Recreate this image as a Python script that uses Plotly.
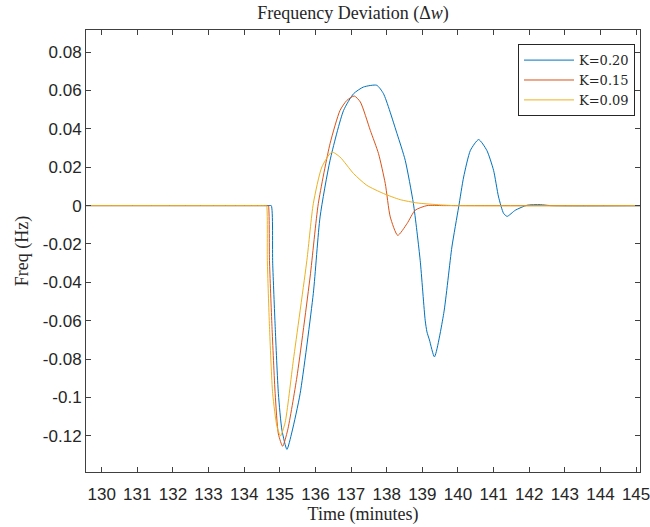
import plotly.graph_objects as go

# K = 0.20 (blue)
t_k20 = [129.0, 134.70, 134.76, 134.80, 134.87, 134.96, 135.06, 135.20, 135.34, 135.57, 135.94, 136.13,
         136.41, 136.79, 137.07, 137.35, 137.72, 137.91, 138.29, 138.52, 138.75, 138.94, 139.08,
         139.13, 139.20, 139.34, 139.60, 139.83, 140.02, 140.16, 140.35, 140.58, 140.81, 141.00,
         141.14, 141.28, 141.38, 141.61, 141.94, 142.31, 142.60, 146.0]
f_k20 = [0.0, 0.0, 0.0, -0.030, -0.063, -0.098, -0.117, -0.1270, -0.118, -0.098, -0.0458, -0.0059,
         0.0236, 0.0496, 0.0583, 0.0618, 0.0627, 0.0583, 0.0375, 0.0236, 0.0010, -0.0285, -0.0597,
         -0.0658, -0.0700, -0.0788, -0.0563, -0.0216, -0.0007, 0.0149, 0.0288, 0.0344, 0.0288, 0.0184,
         0.0045, -0.0040, -0.0056, -0.0024, 0.0002, 0.0005, 0.0, 0.0]

# K = 0.15 (orange)
t_k15 = [129.0, 134.66, 134.68, 134.71, 134.78, 134.87, 134.96, 135.08, 135.22, 135.48, 135.85, 136.08,
         136.41, 136.69, 136.88, 137.09, 137.26, 137.54, 137.77, 137.96, 138.10, 138.31, 138.57,
         138.80, 139.13, 139.60, 146.0]
f_k15 = [0.0, 0.0, 0.0, -0.0285, -0.063, -0.098, -0.119, -0.1254, -0.117, -0.0893, -0.0372, 0.0010,
         0.0323, 0.0496, 0.0548, 0.0571, 0.0540, 0.0392, 0.0271, 0.0115, -0.0059, -0.0155, -0.0094,
         -0.0024, 0.0000, 0.0, 0.0]

# K = 0.09 (yellow)
t_k09 = [129.0, 134.61, 134.63, 134.65, 134.71, 134.80, 134.92, 135.02, 135.15, 135.38, 135.76, 135.94,
         136.18, 136.46, 136.69, 137.07, 137.44, 137.91, 138.38, 138.85, 139.41, 139.90, 146.0]
f_k09 = [0.0, 0.0, 0.0, -0.0285, -0.063, -0.098, -0.115, -0.1200, -0.113, -0.0806, -0.0285, 0.0010,
         0.0201, 0.0279, 0.0253, 0.0167, 0.0106, 0.0063, 0.0031, 0.0014, 0.0005, 0.0, 0.0]

x_ticks = list(range(130, 146))
y_tickvals = [0.08, 0.06, 0.04, 0.02, 0, -0.02, -0.04, -0.06, -0.08, -0.1, -0.12]
y_ticktext = ["0.08", "0.06", "0.04", "0.02", "0", "-0.02", "-0.04", "-0.06", "-0.08", "-0.1", "-0.12"]

series = [
    ("K=0.20", t_k20, f_k20, "#0072BD"),
    ("K=0.15", t_k15, f_k15, "#D95319"),
    ("K=0.09", t_k09, f_k09, "#EDB120"),
]

fig = go.Figure()
for name, t, f, c in series:
    fig.add_trace(go.Scatter(x=t, y=f, mode="lines", name=name,
                             line=dict(color=c, width=1, shape="spline", smoothing=0.6)))

axis_col = "#404040"
txt_col = "#262626"
serif = "Liberation Serif"
sans = "Liberation Sans"

fig.update_layout(
    width=650, height=527,
    margin=dict(l=86, r=10, t=30, b=55),
    paper_bgcolor="white", plot_bgcolor="white",
    title=dict(text="Frequency Deviation (Δ<i>w</i>)", x=353/650, xanchor="center",
               y=1 - 13/527, yanchor="middle",
               font=dict(family=serif, size=18, color=txt_col)),
    legend=dict(x=0.991, xanchor="right", y=0.968, yanchor="top",
                bgcolor="white", bordercolor=txt_col, borderwidth=1,
                font=dict(family="DejaVu Serif", size=13, color=txt_col),
                itemwidth=50, tracegroupgap=0),
    showlegend=True,
)
fig.update_xaxes(range=[129.56, 145.11], tickvals=x_ticks, ticktext=[str(v) for v in x_ticks],
                 ticks="inside", ticklen=5, tickcolor=axis_col, showline=True, linecolor=axis_col,
                 linewidth=1, mirror="ticks", showgrid=False, zeroline=False, automargin=False,
                 ticklabelstandoff=7, ticklabeloverflow="allow",
                 tickfont=dict(family=sans, size=17, color=txt_col),
                 title=dict(text="Time (minutes)", font=dict(family=serif, size=18, color=txt_col),
                            standoff=2))
fig.update_yaxes(range=[-0.1388, 0.0915], tickvals=y_tickvals, ticktext=y_ticktext,
                 ticks="inside", ticklen=5, tickcolor=axis_col, showline=True, linecolor=axis_col,
                 linewidth=1, mirror="ticks", showgrid=False, zeroline=False, automargin=False,
                 ticklabeloverflow="allow",
                 tickfont=dict(family=sans, size=17, color=txt_col),
                 title=dict(text="Freq (Hz)", font=dict(family=serif, size=18, color=txt_col),
                            standoff=9))

fig.write_html("out.html")
